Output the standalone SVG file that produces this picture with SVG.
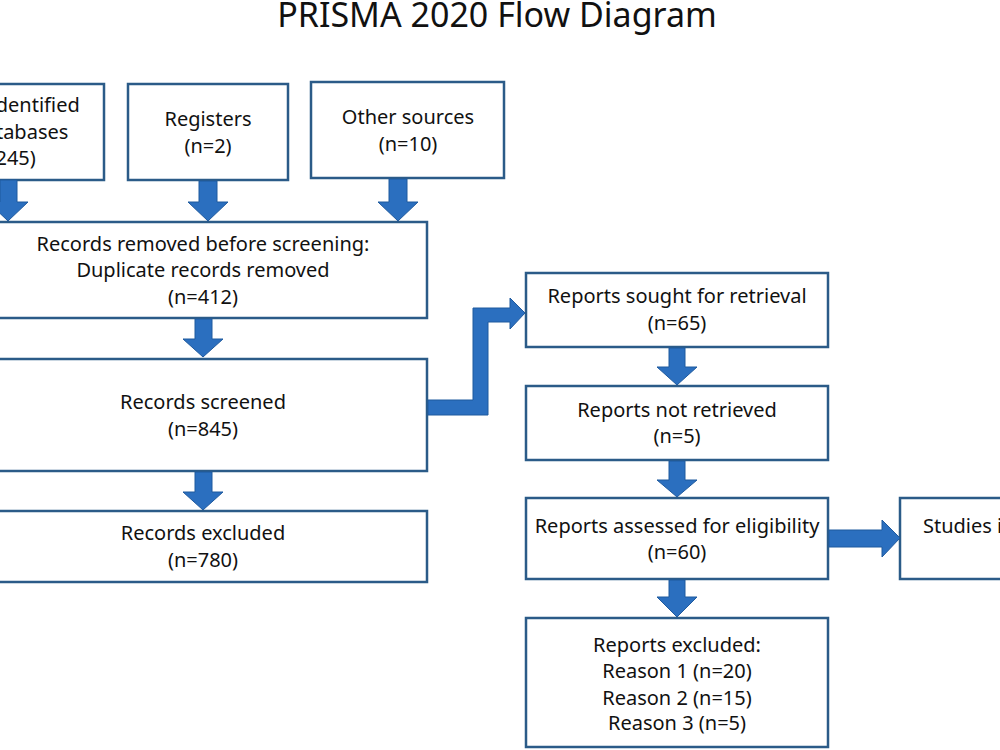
<svg xmlns="http://www.w3.org/2000/svg" width="1000" height="750" viewBox="0 0 1000 750">
<style>
.box{fill:#ffffff;stroke:#2b5b88;stroke-width:2.5}
.t{font-family:"Noto Sans","Open Sans","Liberation Sans",sans-serif;font-size:20px;fill:#111;text-anchor:middle}
.title{font-family:"Noto Sans","Open Sans","Liberation Sans",sans-serif;font-size:34px;fill:#111;text-anchor:middle}
.arr{fill:#2b6fbf;stroke:#1f5a9e;stroke-width:1;stroke-linejoin:miter}
</style>
<rect width="1000" height="750" fill="#ffffff"/>
<text class="title" x="497" y="27">PRISMA 2020 Flow Diagram</text>

<g id="n-databases">
<rect class="box" x="-114" y="84" width="218" height="96"/>
<text class="t" x="-5" y="112">Records identified</text>
<text class="t" x="-5" y="139">from databases</text>
<text class="t" x="-5" y="165">(n=1245)</text>
</g>
<g id="n-registers">
<rect class="box" x="128" y="84" width="160" height="96"/>
<text class="t" x="208" y="126">Registers</text>
<text class="t" x="208" y="153">(n=2)</text>
</g>
<g id="n-other">
<rect class="box" x="311" y="82" width="193" height="96"/>
<text class="t" x="408" y="124">Other sources</text>
<text class="t" x="408" y="151">(n=10)</text>
</g>
<g id="n-removed">
<rect class="box" x="-21" y="222" width="448" height="96"/>
<text class="t" x="203" y="251">Records removed before screening:</text>
<text class="t" x="203" y="277">Duplicate records removed</text>
<text class="t" x="203" y="304">(n=412)</text>
</g>
<g id="n-screened">
<rect class="box" x="-21" y="359" width="448" height="112"/>
<text class="t" x="203" y="409">Records screened</text>
<text class="t" x="203" y="436">(n=845)</text>
</g>
<g id="n-excluded">
<rect class="box" x="-21" y="511" width="448" height="71"/>
<text class="t" x="203" y="540">Records excluded</text>
<text class="t" x="203" y="567">(n=780)</text>
</g>
<g id="n-sought">
<rect class="box" x="526" y="273" width="302" height="74"/>
<text class="t" x="677" y="303">Reports sought for retrieval</text>
<text class="t" x="677" y="330">(n=65)</text>
</g>
<g id="n-notretrieved">
<rect class="box" x="526" y="386" width="302" height="74"/>
<text class="t" x="677" y="417">Reports not retrieved</text>
<text class="t" x="677" y="443">(n=5)</text>
</g>
<g id="n-assessed">
<rect class="box" x="526" y="498" width="302" height="81"/>
<text class="t" x="677" y="533">Reports assessed for eligibility</text>
<text class="t" x="677" y="559">(n=60)</text>
</g>
<g id="n-included">
<rect class="box" x="900" y="498" width="302" height="81"/>
<text class="t" x="923" y="533" style="text-anchor:start">Studies included in review</text>
<text class="t" x="1051" y="559">(n=20)</text>
</g>
<g id="n-reportsexcluded">
<rect class="box" x="526" y="618" width="302" height="129"/>
<text class="t" x="677" y="652">Reports excluded:</text>
<text class="t" x="677" y="678">Reason 1 (n=20)</text>
<text class="t" x="677" y="705">Reason 2 (n=15)</text>
<text class="t" x="677" y="730">Reason 3 (n=5)</text>
</g>

<g id="connectors">
<polygon class="arr" points="0,180 17,180 17,202 28,202 8,221 -12,202 0,202"/>
<polygon class="arr" points="199,181 217,181 217,202 228,202 208,221 188,202 199,202"/>
<polygon class="arr" points="389,179 407,179 407,202 418,202 398,221 378,202 389,202"/>
<polygon class="arr" points="195,319 212,319 212,339 223,339 203,357 183,339 195,339"/>
<polygon class="arr" points="195,472 212,472 212,492 223,492 203,510 183,492 195,492"/>
<polygon class="arr" points="428,400 473,400 473,308 510,308 510,298 525,313 510,329 510,322 488,322 488,415 428,415"/>
<polygon class="arr" points="669,348 685,348 685,367 697,367 677,385 657,367 669,367"/>
<polygon class="arr" points="669,461 685,461 685,480 697,480 677,497 657,480 669,480"/>
<polygon class="arr" points="829,530 882,530 882,520 900,538 882,557 882,547 829,547"/>
<polygon class="arr" points="669,580 685,580 685,597 697,597 677,617 657,597 669,597"/>
</g>
</svg>
